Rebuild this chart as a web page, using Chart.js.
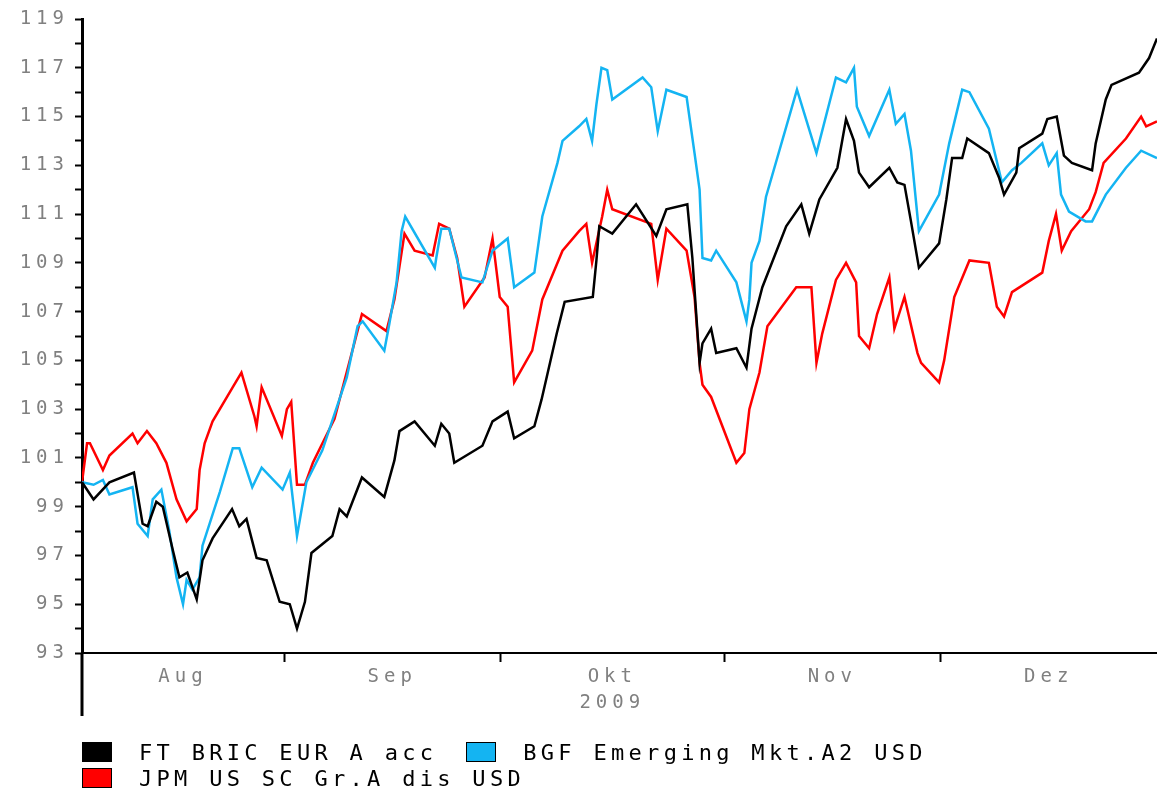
<!DOCTYPE html>
<html>
<head>
<meta charset="utf-8">
<script src="https://cdn.jsdelivr.net/npm/chart.js@4.4.1/dist/chart.umd.min.js"></script>
<style>
body { margin: 0; background: #fff; }
#wrap { position: relative; width: 1157px; height: 790px; overflow: hidden; }
#legend {
  position: absolute; left: 82px; top: 742px; width: 1000px;
  display: flex; flex-wrap: wrap;
  font-family: 'DejaVu Sans Mono', monospace; font-size: 22px; letter-spacing: 4.3px; color: #000;
}
.item { display: flex; align-items: center; height: 20px; margin-bottom: 6px; margin-right: 29px; }
.box { width: 28px; height: 18px; border: 1px solid #000; margin-right: 27px; }
</style>
</head>
<body>
<div id="wrap">
  <canvas id="chart" width="1157" height="790"></canvas>
  <div id="legend"></div>
</div>
<script>
// x = days since 1 Aug 2009
const xMin = 3, xMax = 152;
const monthBounds = [31, 61, 92, 122]; // 1 Sep, 1 Okt, 1 Nov, 1 Dez
const monthLabels = ['Aug', 'Sep', ['Okt', '2009'], 'Nov', 'Dez'];
const yTicks = [93, 94, 95, 96, 97, 98, 99, 100, 101, 102, 103, 104, 105, 106, 107, 108, 109, 110, 111, 112, 113, 114, 115, 116, 117, 118, 119];

const seriesNames = ['FT BRIC EUR A acc', 'BGF Emerging Mkt.A2 USD', 'JPM US SC Gr.A dis USD'];
const seriesColors = ['#000000', '#14b4f2', '#ff0000'];

const bricDays = [3.0, 4.6, 6.8, 10.2, 11.4, 12.1, 13.3, 14.2, 15.6, 16.5, 17.6, 18.9, 19.7, 21.1, 23.8, 24.8, 25.8, 27.2, 28.6, 30.4,
  31.8, 32.8, 33.9, 34.8, 37.7, 38.7, 39.7, 41.8, 44.9, 46.3, 47.0, 49.1, 51.9, 52.8, 53.9, 54.6, 58.5, 59.9, 62.0, 62.9,
  65.7, 66.7, 68.8, 69.9, 73.8, 74.3, 74.7, 76.5, 79.8, 82.6, 84.0, 86.9, 87.6, 88.6, 89.0, 90.2, 90.9, 93.7, 95.1, 95.8,
  97.3, 100.6, 102.7, 103.8, 105.2, 107.7, 108.9, 110.0, 110.7, 112.1, 114.9, 116.0, 117.0, 117.9, 119.0, 121.8, 122.8, 123.6, 125.0, 125.7,
  128.7, 130.1, 130.8, 132.5, 132.9, 136.1, 136.8, 138.1, 139.1, 140.2, 143.0, 143.5, 144.9, 145.7, 149.5, 150.9, 152.0];
const bricVals = [100.0, 99.3, 100.0, 100.4, 98.3, 98.2, 99.2, 99.0, 97.2, 96.1, 96.3, 95.2, 96.8, 97.7, 98.9, 98.2, 98.5, 96.9, 96.8, 95.1,
  95.0, 94.0, 95.1, 97.1, 97.8, 98.9, 98.6, 100.2, 99.4, 100.9, 102.1, 102.5, 101.5, 102.4, 102.0, 100.8, 101.5, 102.5, 102.9, 101.8,
  102.3, 103.4, 106.1, 107.4, 107.6, 109.1, 110.5, 110.2, 111.4, 110.1, 111.2, 111.4, 109.2, 104.9, 105.7, 106.3, 105.3, 105.5, 104.7, 106.3,
  108.0, 110.5, 111.4, 110.2, 111.6, 112.9, 114.9, 114.0, 112.7, 112.1, 112.9, 112.3, 112.2, 110.7, 108.8, 109.8, 111.6, 113.3, 113.3, 114.1,
  113.5, 112.5, 111.8, 112.7, 113.7, 114.3, 114.9, 115.0, 113.4, 113.1, 112.8, 113.9, 115.7, 116.3, 116.8, 117.4, 118.2];

const bgfDays = [3.0, 4.6, 5.9, 6.8, 10.0, 10.7, 12.1, 12.8, 14.0, 15.1, 16.1, 17.0, 17.5, 18.3, 19.3, 19.7, 22.1, 23.9, 24.8, 26.6,
  27.9, 30.8, 31.8, 32.8, 34.1, 36.3, 39.7, 41.2, 41.9, 44.9, 45.6, 46.6, 47.3, 47.8, 51.9, 52.1, 52.8, 53.9, 55.6, 58.5,
  59.9, 62.0, 62.9, 65.7, 66.8, 68.9, 69.6, 71.9, 72.9, 73.7, 74.3, 75.0, 75.8, 76.5, 80.7, 81.9, 82.8, 84.0, 86.8, 87.9,
  88.6, 89.0, 90.2, 90.9, 93.7, 95.1, 95.5, 95.8, 96.9, 97.8, 102.1, 104.8, 107.5, 108.9, 110.0, 110.4, 112.1, 114.9, 115.8, 117.0,
  117.9, 119.0, 121.8, 123.2, 125.0, 126.0, 128.7, 130.5, 131.9, 133.2, 136.1, 137.0, 138.1, 138.7, 139.8, 142.1, 143.0, 144.9, 147.7, 149.8, 152.0];
const bgfVals = [100.0, 99.9, 100.1, 99.5, 99.8, 98.3, 97.8, 99.3, 99.7, 98.0, 96.1, 95.0, 96.0, 95.6, 96.1, 97.4, 99.6, 101.4, 101.4, 99.8,
  100.6, 99.7, 100.4, 97.8, 100.0, 101.3, 104.3, 106.4, 106.6, 105.4, 106.5, 108.2, 110.3, 110.9, 108.8, 109.2, 110.4, 110.4, 108.4, 108.2,
  109.5, 110.0, 108.0, 108.6, 110.9, 113.1, 114.0, 114.6, 114.9, 114.0, 115.5, 117.0, 116.9, 115.7, 116.6, 116.2, 114.4, 116.1, 115.8, 113.5,
  112.0, 109.2, 109.1, 109.5, 108.2, 106.6, 107.5, 109.0, 109.9, 111.7, 116.1, 113.5, 116.6, 116.4, 117.0, 115.4, 114.2, 116.1, 114.7, 115.1,
  113.6, 110.3, 111.8, 113.9, 116.1, 116.0, 114.5, 112.3, 112.8, 113.1, 113.9, 113.0, 113.5, 111.8, 111.1, 110.7, 110.7, 111.8, 112.9, 113.6, 113.3];

const jpmDays = [3.0, 3.7, 4.1, 5.9, 6.8, 10.0, 10.7, 12.0, 13.3, 14.7, 16.1, 17.5, 18.9, 19.3, 20.0, 21.1, 23.9, 25.1, 26.9, 27.2,
  27.9, 30.7, 31.4, 32.0, 32.8, 33.9, 35.0, 38.0, 41.8, 45.2, 46.3, 47.7, 49.1, 51.6, 52.5, 53.9, 55.0, 56.0, 58.8, 59.9,
  60.9, 62.0, 62.9, 65.4, 66.8, 69.6, 71.9, 72.9, 73.7, 75.1, 75.8, 76.5, 81.9, 82.8, 84.0, 86.8, 87.9, 88.6, 89.0, 90.2,
  93.7, 94.8, 95.5, 96.9, 98.0, 102.0, 104.1, 104.8, 105.6, 107.5, 108.9, 110.3, 110.7, 112.1, 113.2, 114.9, 115.6, 117.0, 118.8, 119.3,
  121.8, 122.5, 123.9, 126.0, 128.7, 129.8, 130.8, 131.9, 136.1, 137.0, 138.0, 138.8, 140.1, 142.6, 143.5, 144.6, 147.7, 149.8, 150.5, 152.0];
const jpmVals = [100.0, 101.6, 101.6, 100.5, 101.1, 102.0, 101.6, 102.1, 101.6, 100.8, 99.3, 98.4, 98.9, 100.5, 101.6, 102.5, 103.9, 104.5, 102.7, 102.3,
  103.9, 101.9, 103.0, 103.3, 99.9, 99.9, 100.8, 102.6, 106.9, 106.2, 107.5, 110.2, 109.5, 109.3, 110.6, 110.4, 109.2, 107.2, 108.4, 110.0,
  107.6, 107.2, 104.1, 105.4, 107.5, 109.5, 110.3, 110.6, 109.0, 110.9, 112.0, 111.2, 110.6, 108.3, 110.4, 109.5, 107.6, 104.9, 104.0, 103.5,
  100.8, 101.2, 103.0, 104.5, 106.4, 108.0, 108.0, 104.9, 106.1, 108.3, 109.0, 108.2, 106.0, 105.5, 106.9, 108.4, 106.3, 107.6, 105.3, 104.9,
  104.1, 105.0, 107.6, 109.1, 109.0, 107.2, 106.8, 107.8, 108.6, 109.9, 111.0, 109.5, 110.3, 111.2, 111.9, 113.1, 114.1, 115.0, 114.6, 114.8];

const toPoints = (xs, ys) => xs.map((x, i) => ({ x: x, y: ys[i] }));

// month labels sit in the middle of each month, tick marks on the month borders
const edges = [xMin, ...monthBounds, xMax];
const monthMids = monthLabels.map((_, i) => (edges[i] + edges[i + 1]) / 2);
const labelAt = new Map(monthMids.map((m, i) => [m, monthLabels[i]]));

const tickFont = { family: "'DejaVu Sans Mono', monospace", size: 19, lineHeight: 1.37 };

const spacing = {
  id: 'spacing',
  beforeUpdate(chart) { chart.ctx.letterSpacing = '5px'; },
  beforeDraw(chart) { chart.ctx.letterSpacing = '5px'; }
};

// the y axis line runs on below the x axis
const axisTail = {
  id: 'axisTail',
  afterDraw(chart) {
    const { ctx, chartArea } = chart;
    ctx.save();
    ctx.strokeStyle = '#000';
    ctx.lineWidth = 3;
    ctx.beginPath();
    ctx.moveTo(chartArea.left, chartArea.bottom);
    ctx.lineTo(chartArea.left, chartArea.bottom + 63);
    ctx.stroke();
    ctx.restore();
  }
};

const chart = new Chart(document.getElementById('chart'), {
  type: 'line',
  data: {
    datasets: [
      { label: seriesNames[0], data: toPoints(bricDays, bricVals), borderColor: seriesColors[0], backgroundColor: seriesColors[0] },
      { label: seriesNames[1], data: toPoints(bgfDays, bgfVals), borderColor: seriesColors[1], backgroundColor: seriesColors[1] },
      { label: seriesNames[2], data: toPoints(jpmDays, jpmVals), borderColor: seriesColors[2], backgroundColor: seriesColors[2] }
    ]
  },
  options: {
    responsive: false,
    animation: false,
    events: [],
    elements: {
      line: { borderWidth: 2.5, tension: 0 },
      point: { radius: 0 }
    },
    layout: { padding: { top: 18, right: 0, bottom: 74, left: 0 } },
    plugins: { legend: { display: false }, tooltip: { enabled: false } },
    scales: {
      x: {
        type: 'linear',
        min: xMin,
        max: xMax,
        afterBuildTicks: scale => {
          scale.ticks = [...monthBounds, ...monthMids].sort((a, b) => a - b).map(v => ({ value: v }));
        },
        afterFit: scale => { scale.height = 63; },
        border: { color: '#000', width: 2 },
        grid: {
          drawOnChartArea: false,
          tickLength: 9,
          tickWidth: 2,
          tickColor: ctx => (ctx.tick && monthBounds.includes(ctx.tick.value)) ? '#000' : 'rgba(0,0,0,0)'
        },
        ticks: {
          autoSkip: false,
          maxRotation: 0,
          padding: 2,
          color: '#808080',
          font: tickFont,
          callback: value => labelAt.get(value) || ''
        }
      },
      y: {
        min: yTicks[0],
        max: yTicks[yTicks.length - 1],
        afterBuildTicks: scale => { scale.ticks = yTicks.map(v => ({ value: v })); },
        afterFit: scale => { scale.width = 82; },
        border: { color: '#000', width: 3 },
        grid: { drawOnChartArea: false, tickLength: 7, tickWidth: 2, tickColor: '#000' },
        ticks: {
          autoSkip: false,
          padding: 6,
          color: '#808080',
          font: tickFont,
          callback: value => (value % 2 ? value : '')
        }
      }
    }
  },
  plugins: [spacing, axisTail]
});

// legend as plain html under the chart
const legend = document.getElementById('legend');
chart.data.datasets.forEach(ds => {
  const item = document.createElement('div');
  item.className = 'item';
  const box = document.createElement('span');
  box.className = 'box';
  box.style.background = ds.borderColor;
  const text = document.createElement('span');
  text.textContent = ds.label;
  item.appendChild(box);
  item.appendChild(text);
  legend.appendChild(item);
});
</script>
</body>
</html>
